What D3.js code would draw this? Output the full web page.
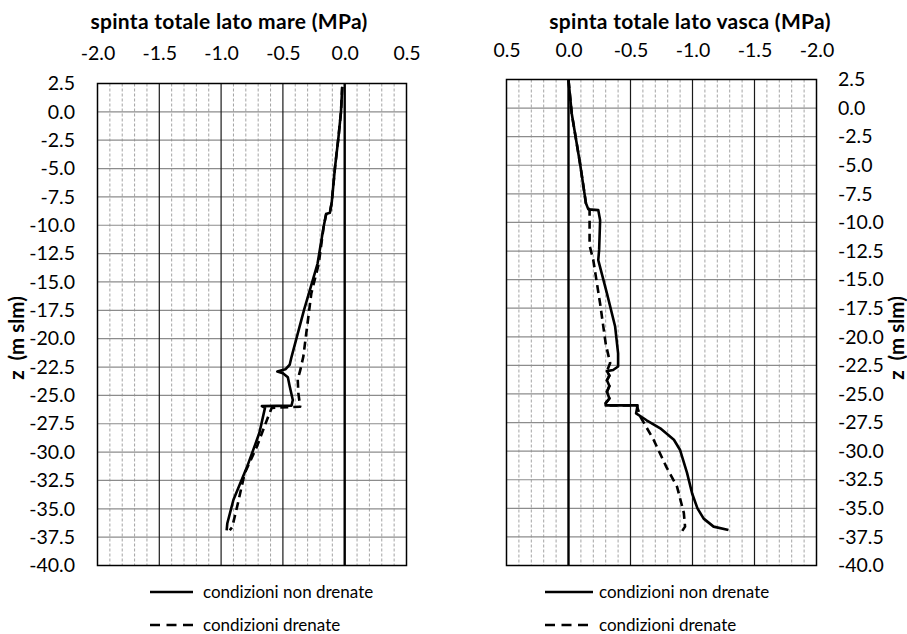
<!DOCTYPE html>
<html>
<head>
<meta charset="utf-8">
<script src="https://cdn.jsdelivr.net/npm/d3@7"></script>
<style>
  html, body { margin: 0; padding: 0; background: #fff; }
  svg { display: block; }
  text { font-family: Lato, "Open Sans", sans-serif; fill: #000; }
</style>
</head>
<body>
<svg id="chart" width="907" height="634"></svg>
<script>
// Depth (m slm) and total thrust (MPa) profiles
const zTicks = d3.range(2.5, -40.01, -2.5);
const pTicks = [-2.0, -1.5, -1.0, -0.5, 0.0, 0.5];

// lato mare — condizioni non drenate
const mareUndrainedZ = [2.2, 0.0, -2.2, -4.85, -8.0, -8.9, -9.0, -10.1, -13.4, -17.5, -21.6, -22.3, -22.7, -22.9, -23.05, -23.4, -24.2, -25.4, -25.9, -25.95, -26.1, -28.3, -31.3, -34.2, -36.3, -36.9];
const mareUndrainedP = [-0.02, -0.03, -0.05, -0.078, -0.105, -0.12, -0.15, -0.17, -0.22, -0.33, -0.43, -0.445, -0.48, -0.545, -0.50, -0.46, -0.445, -0.42, -0.43, -0.67, -0.645, -0.69, -0.79, -0.90, -0.95, -0.955];

// lato mare — condizioni drenate
const mareDrainedZ = [2.2, 0.0, -2.2, -4.85, -8.0, -8.9, -9.0, -10.1, -13.4, -16.0, -21.6, -22.8, -23.6, -24.8, -26.0, -26.1, -26.9, -29.5, -31.9, -34.8, -36.6, -36.9];
const mareDrainedP = [-0.02, -0.03, -0.05, -0.078, -0.105, -0.12, -0.15, -0.17, -0.21, -0.27, -0.335, -0.36, -0.38, -0.375, -0.36, -0.59, -0.62, -0.71, -0.81, -0.87, -0.91, -0.93];

// lato vasca — condizioni non drenate
const vascaUndrainedZ = [2.45, -0.47, -4.84, -7.76, -8.3, -8.86, -8.92, -9.8, -12.4, -13.3, -16.2, -19.1, -21.45, -22.6, -22.9, -23.0, -23.4, -23.8, -24.3, -24.8, -25.4, -25.8, -26.0, -26.0, -26.7, -27.3, -28.0, -29.0, -29.9, -31.9, -33.7, -35.0, -35.9, -36.6, -36.9];
const vascaUndrainedP = [0.0, -0.026, -0.093, -0.133, -0.14, -0.16, -0.24, -0.255, -0.247, -0.24, -0.31, -0.376, -0.40, -0.40, -0.36, -0.31, -0.33, -0.31, -0.33, -0.31, -0.33, -0.30, -0.30, -0.557, -0.545, -0.63, -0.74, -0.85, -0.90, -0.956, -0.997, -1.04, -1.09, -1.17, -1.29];

// lato vasca — condizioni drenate
const vascaDrainedZ = [2.45, -0.47, -4.84, -7.76, -8.3, -8.9, -12.0, -13.3, -17.1, -20.6, -22.3, -23.0, -23.4, -23.8, -24.3, -24.8, -25.4, -25.8, -26.0, -26.0, -27.0, -29.0, -31.4, -33.1, -35.4, -36.6, -37.0];
const vascaDrainedP = [0.0, -0.026, -0.093, -0.133, -0.14, -0.17, -0.17, -0.20, -0.255, -0.30, -0.336, -0.31, -0.33, -0.31, -0.33, -0.31, -0.33, -0.30, -0.30, -0.55, -0.58, -0.686, -0.79, -0.875, -0.93, -0.94, -0.916];

const legendLabels = ["condizioni non drenate", "condizioni drenate"];

const fmt = d => d.toFixed(1);   // keeps the plain hyphen-minus
const svg = d3.select("#chart");
svg.append("rect").attr("width", 907).attr("height", 634).attr("fill", "#fff");

function toPoints(zs, ps) { return zs.map((z, i) => [ps[i], z]); }

function drawPanel(cfg) {
  const g = svg.append("g");
  const x = d3.scaleLinear().domain(cfg.xDomain).range([cfg.left, cfg.right]);
  const y = d3.scaleLinear().domain([2.5, -40]).range([cfg.top, cfg.bottom]);

  // minor vertical grid (every 0.1 MPa)
  const minor = d3.range(-20, 6).map(k => k / 10).filter(v => Math.abs(v * 10) % 5 !== 0);
  g.append("g").selectAll("line").data(minor).join("line")
    .attr("x1", d => x(d)).attr("x2", d => x(d))
    .attr("y1", cfg.top).attr("y2", cfg.bottom)
    .attr("stroke", "#9a9a9a").attr("stroke-width", 0.9)
    .attr("stroke-dasharray", "3,2");

  // horizontal grid (every 2.5 m)
  g.append("g").selectAll("line").data(zTicks).join("line")
    .attr("x1", cfg.left).attr("x2", cfg.right)
    .attr("y1", d => y(d)).attr("y2", d => y(d))
    .attr("stroke", "#8c8c8c").attr("stroke-width", 1.2);

  // major vertical grid (every 0.5 MPa)
  const major = pTicks.filter(v => v !== 0 && v > -2.0 && v < 0.5);
  g.append("g").selectAll("line").data(major).join("line")
    .attr("x1", d => x(d)).attr("x2", d => x(d))
    .attr("y1", cfg.top).attr("y2", cfg.bottom)
    .attr("stroke", "#1a1a1a").attr("stroke-width", 1.2);

  // zero line
  g.append("line")
    .attr("x1", x(0)).attr("x2", x(0)).attr("y1", cfg.top).attr("y2", cfg.bottom)
    .attr("stroke", "#000").attr("stroke-width", 2.4);

  // frame
  g.append("rect")
    .attr("x", cfg.left).attr("y", cfg.top)
    .attr("width", cfg.right - cfg.left).attr("height", cfg.bottom - cfg.top)
    .attr("fill", "none").attr("stroke", "#000").attr("stroke-width", 1.5);

  // top axis (pressure)
  const xAxis = d3.axisTop(x).tickValues(pTicks).tickFormat(fmt).tickSize(0).tickPadding(0);
  const xa = g.append("g").attr("transform", `translate(0,${cfg.tickY})`).call(xAxis);
  xa.select(".domain").remove();
  xa.selectAll("text").attr("font-size", 19.5).attr("font-family", "Lato, sans-serif")
    .attr("dy", "0.35em");

  // depth axis
  const yAxis = (cfg.yAxisSide === "left" ? d3.axisLeft(y) : d3.axisRight(y))
    .tickValues(zTicks).tickFormat(fmt).tickSize(0).tickPadding(0);
  const ya = g.append("g").attr("transform", `translate(${cfg.yLabelX},0)`).call(yAxis);
  ya.select(".domain").remove();
  ya.selectAll("text").attr("font-size", 19.5).attr("font-family", "Lato, sans-serif");

  // titles
  g.append("text").attr("x", cfg.titleX).attr("y", 22).attr("text-anchor", "middle")
    .attr("dy", "0.35em").attr("font-weight", "bold").attr("font-size", 21)
    .attr("letter-spacing", 0.3)
    .text(cfg.title);
  g.append("text")
    .attr("transform", `translate(${cfg.zTitleX},${338}) rotate(-90)`)
    .attr("text-anchor", "middle").attr("dy", "0.35em")
    .attr("font-weight", "bold").attr("font-size", 20.5)
    .attr("xml:space", "preserve")
    .text("z  (m slm)");

  // profiles
  const line = d3.line().x(d => x(d[0])).y(d => y(d[1]));
  g.append("path").datum(toPoints(cfg.dz, cfg.dp)).attr("d", line)
    .attr("fill", "none").attr("stroke", "#000").attr("stroke-width", 2.6)
    .attr("stroke-dasharray", "8,5").attr("stroke-linejoin", "round");
  g.append("path").datum(toPoints(cfg.uz, cfg.up)).attr("d", line)
    .attr("fill", "none").attr("stroke", "#000").attr("stroke-width", 2.6)
    .attr("stroke-linejoin", "round");

  // legend
  const lg = g.append("g");
  const rows = [{label: legendLabels[0], dash: null, y: 592}, {label: legendLabels[1], dash: "10,6.5", y: 625}];
  rows.forEach(r => {
    lg.append("line").attr("x1", cfg.legX1).attr("x2", cfg.legX2).attr("y1", r.y).attr("y2", r.y)
      .attr("stroke", "#000").attr("stroke-width", 2.6)
      .attr("stroke-dasharray", r.dash);
    lg.append("text").attr("x", cfg.legTextX).attr("y", r.y).attr("dy", "0.35em")
      .attr("font-size", 17).text(r.label);
  });
}

drawPanel({
  title: "spinta totale lato mare (MPa)",
  xDomain: [-2.0, 0.5], left: 97.5, right: 406.5, top: 83.5, bottom: 565.5,
  tickY: 53, yAxisSide: "left", yLabelX: 75, titleX: 229, zTitleX: 17,
  uz: mareUndrainedZ, up: mareUndrainedP, dz: mareDrainedZ, dp: mareDrainedP,
  legX1: 150, legX2: 193, legTextX: 203
});

drawPanel({
  title: "spinta totale lato vasca (MPa)",
  xDomain: [0.5, -2.0], left: 506.5, right: 816.5, top: 79.5, bottom: 565.5,
  tickY: 50, yAxisSide: "right", yLabelX: 838, titleX: 690, zTitleX: 897,
  uz: vascaUndrainedZ, up: vascaUndrainedP, dz: vascaDrainedZ, dp: vascaDrainedP,
  legX1: 545, legX2: 593, legTextX: 599
});
</script>
</body>
</html>
